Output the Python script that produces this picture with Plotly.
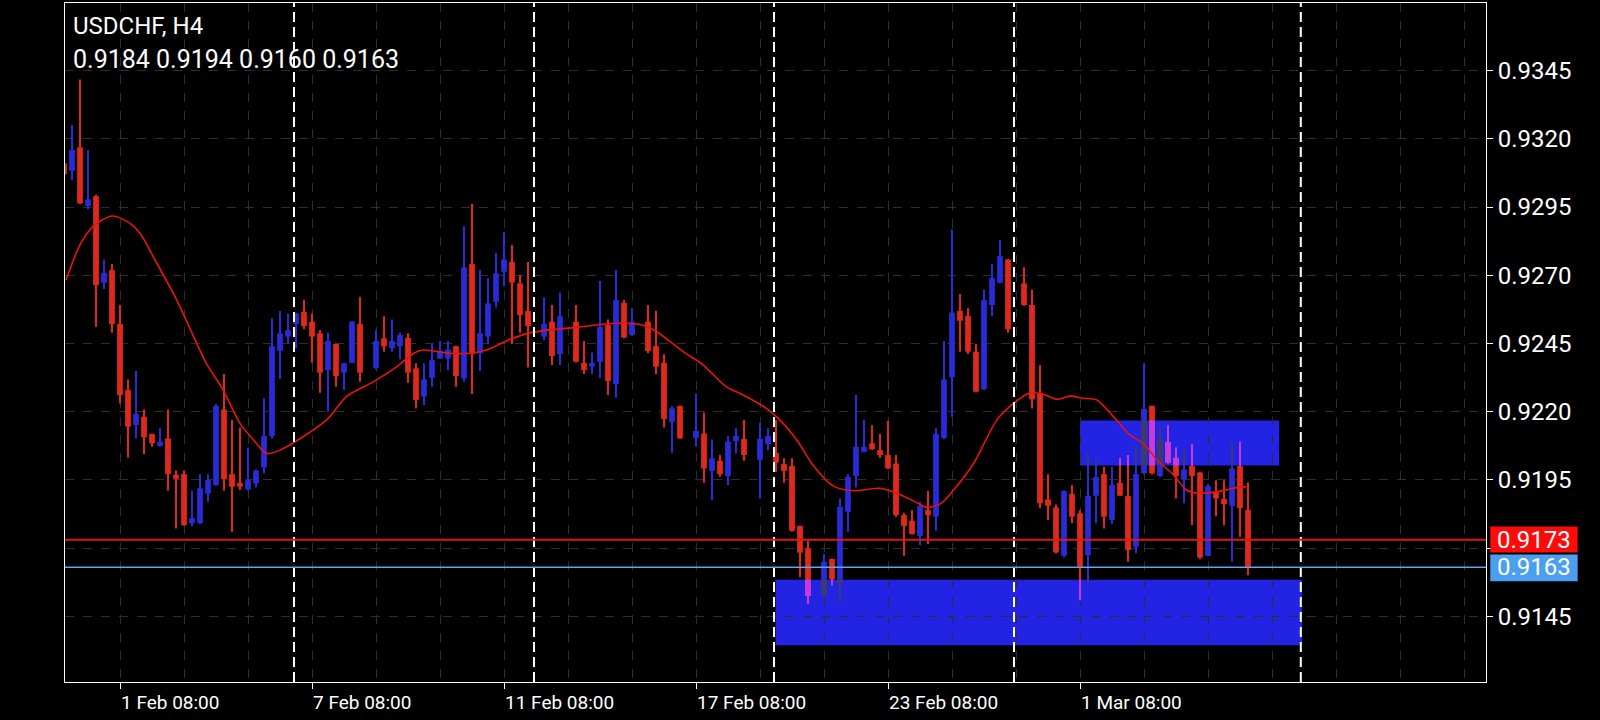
import plotly.graph_objects as go

# ---------------- data ----------------
bar_index = list(range(-1, 148))
opens = [0.9311, 0.93083, 0.93169, 0.92954, 0.92990, 0.92673, 0.92719, 0.92521, 0.92279, 0.92151,
         0.92181, 0.92118, 0.92074, 0.92102, 0.91968, 0.91971, 0.91791, 0.91791, 0.91900, 0.91931,
         0.92208, 0.91971, 0.91939, 0.91915, 0.91937, 0.91996, 0.92111, 0.92423, 0.92475, 0.92521,
         0.92566, 0.92530, 0.92487, 0.92352, 0.92448, 0.92343, 0.92379, 0.92521, None, 0.92361,
         0.92469, 0.92432, 0.92440, 0.92471, 0.92359, 0.92255, 0.92324, 0.92395, 0.92395, 0.92440,
         0.92322, 0.92741, 0.92414, 0.92475, 0.92603, 0.92713, 0.92749, 0.92670, 0.92569, None,
         0.92475, 0.92530, 0.92411, None, 0.92530, 0.92379, 0.92365, 0.92383, 0.92517, 0.92301,
         0.92599, 0.92481, None, 0.92530, 0.92440, 0.92379, 0.92163, 0.92221, None, 0.92104,
         0.92120, 0.91983, 0.92020, 0.91964, 0.92092, 0.92100, None, 0.92023, 0.92081, 0.92049,
         0.92008, 0.92001, 0.91781, 0.91699, None, 0.91528, 0.91660, 0.91572, 0.91833, 0.91964,
         0.92053, 0.92084, 0.92059, 0.92041, 0.92010, 0.91821, 0.91800, 0.91744, 0.91839, 0.91815,
         0.92104, 0.92326, 0.92570, 0.92550, 0.92420, 0.92282, 0.92591, 0.92673, 0.92758, None,
         0.92670, 0.92591, 0.92267, 0.91878, 0.91849, 0.91672, 0.91898, 0.91827, 0.91674, 0.91892,
         0.91971, 0.91803, 0.91939, 0.91891, 0.91705, 0.91974, 0.92221, 0.91964, 0.92089, 0.92031,
         0.91952, 0.92001, 0.91977, 0.91671, 0.91904, 0.91880, 0.91855, 0.92001, 0.9184]
highs = [0.9313, 0.93251, 0.93418, 0.93159, 0.92995, 0.92758, 0.92741, 0.92591, 0.92318, 0.92349,
         0.92208, 0.92120, 0.92139, 0.92208, 0.91984, 0.91984, 0.91910, 0.91971, 0.91971, 0.92228,
         0.92338, 0.92169, 0.92142, 0.92069, 0.91988, 0.92249, 0.92542, 0.92569, 0.92560, 0.92563,
         0.92609, 0.92560, 0.92499, 0.92489, 0.92450, 0.92380, 0.92532, 0.92621, None, 0.92499,
         0.92550, 0.92538, 0.92489, 0.92487, 0.92377, 0.92377, 0.92448, 0.92459, 0.92459, 0.92442,
         0.92880, 0.92961, 0.92719, 0.92689, 0.92782, 0.92859, 0.92811, 0.92701, 0.92749, None,
         0.92619, 0.92591, 0.92637, None, 0.92591, 0.92459, 0.92417, 0.92679, 0.92538, 0.92719,
         0.92609, 0.92579, None, 0.92591, 0.92570, 0.92410, 0.92221, 0.92223, None, 0.92267,
         0.92197, 0.92098, 0.92041, 0.92111, 0.92139, 0.92169, None, 0.92159, 0.92139, 0.92169,
         0.92029, 0.92029, 0.91783, 0.91726, None, 0.91678, 0.91662, 0.91882, 0.91971, 0.92261,
         0.92169, 0.92150, 0.92118, 0.92167, 0.92041, 0.91829, 0.91839, 0.91870, 0.91909, 0.92139,
         0.92459, 0.92868, 0.92631, 0.92579, 0.92448, 0.92648, 0.92741, 0.92829, 0.92760, None,
         0.92729, 0.92648, 0.92371, 0.91971, 0.91860, 0.91912, 0.91931, 0.91839, 0.92041, 0.92020,
         0.91998, 0.91998, 0.92029, 0.92041, 0.92071, 0.92377, 0.92223, 0.92139, 0.92150, 0.92069,
         0.92059, 0.92081, 0.91980, 0.91935, 0.91949, 0.91949, 0.92081, 0.92090, 0.9194]
lows = [0.9306, 0.93049, 0.92960, 0.92942, 0.92511, 0.92650, 0.92489, 0.92230, 0.92032, 0.92102,
        0.92045, 0.92071, 0.92072, 0.91910, 0.91772, 0.91782, 0.91781, 0.91788, 0.91870, 0.91928,
        0.91910, 0.91760, 0.91913, 0.91910, 0.91923, 0.91974, 0.92102, 0.92320, 0.92450, 0.92432,
        0.92502, 0.92379, 0.92269, 0.92200, 0.92291, 0.92279, 0.92377, 0.92310, None, 0.92355,
        0.92420, 0.92420, 0.92392, 0.92306, 0.92212, 0.92224, 0.92291, 0.92393, 0.92352, 0.92291,
        0.92310, 0.92265, 0.92349, 0.92448, 0.92582, 0.92660, 0.92448, 0.92489, 0.92362, None,
        0.92462, 0.92371, 0.92371, None, 0.92380, 0.92338, 0.92338, 0.92322, 0.92261, 0.92251,
        0.92469, 0.92478, None, 0.92414, 0.92338, 0.92142, 0.92049, 0.92100, None, 0.92071,
        0.91939, 0.91876, 0.91961, 0.91931, 0.92047, 0.92020, None, 0.91881, 0.92059, 0.91980,
        0.91939, 0.91760, 0.91593, 0.91495, None, 0.91521, 0.91564, 0.91503, 0.91760, 0.91923,
        0.92050, 0.92059, 0.92031, 0.91989, 0.91815, 0.91672, 0.91750, 0.91711, 0.91715, 0.91763,
        0.92100, 0.92181, 0.92420, 0.92411, 0.92270, 0.92279, 0.92550, 0.92670, 0.92489, None,
        0.92588, 0.92212, 0.91846, 0.91803, 0.91680, 0.91665, 0.91791, 0.91509, 0.91571, 0.91791,
        0.91772, 0.91789, 0.91890, 0.91650, 0.91681, 0.91970, 0.91970, 0.91960, 0.92010, 0.91882,
        0.91864, 0.91784, 0.91660, 0.91670, 0.91817, 0.91784, 0.91650, 0.91741, 0.9160]
closes = [0.9307, 0.93159, 0.92964, 0.92978, 0.92664, 0.92709, 0.92521, 0.92261, 0.92145, 0.92191,
          0.92106, 0.92084, 0.92090, 0.91971, 0.91954, 0.91784, 0.91809, 0.91919, 0.91949, 0.92221,
          0.91952, 0.91925, 0.91925, 0.91949, 0.91984, 0.92111, 0.92440, 0.92487, 0.92499, 0.92560,
          0.92514, 0.92475, 0.92343, 0.92459, 0.92330, 0.92377, 0.92530, 0.92343, None, 0.92459,
          0.92440, 0.92459, 0.92481, 0.92343, 0.92243, 0.92318, 0.92389, 0.92423, 0.92428, 0.92330,
          0.92729, 0.92411, 0.92487, 0.92597, 0.92707, 0.92758, 0.92673, 0.92554, 0.92514, None,
          0.92521, 0.92404, 0.92550, None, 0.92383, 0.92352, 0.92379, 0.92511, 0.92312, 0.92609,
          0.92472, 0.92530, None, 0.92422, 0.92365, 0.92173, 0.92212, 0.92102, None, 0.92129,
          0.91992, 0.92029, 0.91971, 0.92090, 0.92111, 0.92041, None, 0.92100, 0.92111, 0.92013,
          0.91983, 0.91763, 0.91683, 0.91524, None, 0.91650, 0.91585, 0.91851, 0.91961, 0.92071,
          0.92071, 0.92062, 0.92041, 0.91992, 0.91821, 0.91781, 0.91751, 0.91854, 0.91821, 0.92118,
          0.92318, 0.92563, 0.92533, 0.92420, 0.92273, 0.92609, 0.92689, 0.92770, 0.92502, None,
          0.92591, 0.92245, 0.91864, 0.91855, 0.91684, 0.91909, 0.91815, 0.91631, 0.91891, 0.91961,
          0.91815, 0.91931, 0.91892, 0.91693, 0.91971, 0.92210, 0.91974, 0.92101, 0.92013, 0.91964,
          0.91988, 0.91964, 0.91665, 0.91927, 0.91882, 0.91861, 0.91992, 0.91846, 0.9163]

ma_index = [-0.75, 1, 2.6, 5, 7.25, 8.5, 10.6, 13.1, 15.2, 16.8, 18.9, 21, 22.7, 24.3, 26,
            31.8, 34.3, 37.7, 40.6, 42.7, 43.9, 47.25, 49.75, 51.8, 54.75, 57, 59, 63.1, 68.1,
            71.4, 73.1, 76.4, 78.9, 81.8, 83.9, 86.8, 88.5, 90.6, 92.7, 95.2, 97.7, 101, 103.1,
            105.2, 106.8, 108.5, 110.2, 112.7, 115.6, 117.7, 119.75, 121.4, 123.1, 124.75, 126.4,
            128.1, 130.2, 132.25, 133.9, 135.6, 137.7, 139.3, 141, 143.1, 145.2, 146.8]
ma_values = [0.92682, 0.92811, 0.92878, 0.92917, 0.92890, 0.92854, 0.92744, 0.92609, 0.92475,
             0.92377, 0.92279, 0.92157, 0.92096, 0.92047, 0.92059, 0.92169, 0.92255, 0.92310,
             0.92365, 0.92414, 0.92426, 0.92414, 0.92414, 0.92426, 0.92465, 0.92487, 0.92497,
             0.92509, 0.92524, 0.92517, 0.92493, 0.92420, 0.92371, 0.92291, 0.92261, 0.92212,
             0.92169, 0.92096, 0.92001, 0.91927, 0.91910, 0.91919, 0.91901, 0.91873, 0.91850,
             0.91861, 0.91913, 0.92010, 0.92169, 0.92230, 0.92269, 0.92264, 0.92245, 0.92257,
             0.92249, 0.92243, 0.92181, 0.92114, 0.92084, 0.92023, 0.91968, 0.91913, 0.91901,
             0.91906, 0.91919, 0.91925]

tick_index = [6, 30, 54, 78, 102, 126]
tick_labels = ["1 Feb 08:00", "7 Feb 08:00", "11 Feb 08:00", "17 Feb 08:00", "23 Feb 08:00", "1 Mar 08:00"]
price_ticks = [0.9145, 0.9170, 0.9195, 0.9220, 0.9245, 0.9270, 0.9295, 0.9320, 0.9345]
price_tick_text = ["0.9145", "", "0.9195", "0.9220", "0.9245", "0.9270", "0.9295", "0.9320", "0.9345"]

symbol = "USDCHF, H4"
last_ohlc = [0.9184, 0.9194, 0.9160, 0.9163]
level_price = 0.9173
bid_price = 0.9163
week_separators = [27.75, 57.75, 87.75, 117.75, 153.6]
zones = [(87.94, 153.75, 0.91344, 0.91584), (126.0, 150.9, 0.92003, 0.92168)]

# ---------------- style ----------------
BULL = "#2a2ad8"
BEAR = "#e0281c"
ZONE = "#2323e3"
BULL_IN_ZONE = "#3c3c6a"
BEAR_IN_ZONE = "#c43ce0"
MIN_BODY = 0.00004
X_RANGE = [-0.875, 176.75]
Y_RANGE = [0.91209, 0.93698]

bx, bb, bh, bc = [], [], [], []
wx, wb, wh, wc = [], [], [], []
obx, obb, obh, obc = [], [], [], []
owx, owb, owh, owc = [], [], [], []
for i, o, h, l, c in zip(bar_index, opens, highs, lows, closes):
    if o is None:
        continue
    bull = c >= o
    col = BULL if bull else BEAR
    lo, hi = min(o, c), max(o, c)
    if hi - lo < MIN_BODY:
        mid = (hi + lo) / 2
        lo, hi = mid - MIN_BODY / 2, mid + MIN_BODY / 2
    bx.append(i); bb.append(lo); bh.append(hi - lo); bc.append(col)
    wx.append(i); wb.append(l); wh.append(h - l); wc.append(col)
    for zx0, zx1, zy0, zy1 in zones:
        if zx0 <= i <= zx1:
            zcol = BULL_IN_ZONE if bull else BEAR_IN_ZONE
            a, b = max(lo, zy0), min(hi, zy1)
            if b > a:
                obx.append(i); obb.append(a); obh.append(b - a); obc.append(zcol)
            a, b = max(l, zy0), min(h, zy1)
            if b > a:
                owx.append(i); owb.append(a); owh.append(b - a); owc.append(zcol)

fig = go.Figure()
fig.add_trace(go.Bar(x=wx, y=wh, base=wb, width=0.24, marker=dict(color=wc, line=dict(width=0)),
                     hoverinfo="skip", showlegend=False))
fig.add_trace(go.Bar(x=bx, y=bh, base=bb, width=0.72, marker=dict(color=bc, line=dict(width=0)),
                     hoverinfo="skip", showlegend=False))
fig.add_trace(go.Bar(x=owx, y=owh, base=owb, width=0.24, marker=dict(color=owc, line=dict(width=0)),
                     hoverinfo="skip", showlegend=False))
fig.add_trace(go.Bar(x=obx, y=obh, base=obb, width=0.72, marker=dict(color=obc, line=dict(width=0)),
                     hoverinfo="skip", showlegend=False))
fig.add_trace(go.Scatter(x=ma_index, y=ma_values, mode="lines",
                         line=dict(color="#e8140f", width=1.6, shape="spline", smoothing=0.8),
                         hoverinfo="skip", showlegend=False))

shapes = []
for zx0, zx1, zy0, zy1 in zones:
    shapes.append(dict(type="rect", xref="x", yref="y", x0=zx0, x1=zx1, y0=zy0, y1=zy1,
                       fillcolor=ZONE, line=dict(width=0), layer="below"))
for s in week_separators:
    shapes.append(dict(type="line", xref="x", yref="paper", x0=s, x1=s, y0=0, y1=1,
                       line=dict(color="white", width=2, dash="10px,5px"), layer="above"))
shapes.append(dict(type="line", xref="paper", yref="y", x0=0, x1=1, y0=level_price, y1=level_price,
                   line=dict(color="#d81a14", width=2), layer="above"))
shapes.append(dict(type="line", xref="paper", yref="y", x0=0, x1=1, y0=bid_price, y1=bid_price,
                   line=dict(color="#5aa8f0", width=1.5), layer="above"))
# price tags on the right axis
shapes.append(dict(type="rect", xref="paper", yref="y", x0=1.003, x1=1.0645,
                   y0=level_price - 0.00046, y1=level_price + 0.00049,
                   fillcolor="#ff0a0a", line=dict(width=0), layer="above"))
shapes.append(dict(type="rect", xref="paper", yref="y", x0=1.003, x1=1.0645,
                   y0=bid_price - 0.00052, y1=bid_price + 0.00046,
                   fillcolor="#4b9ff0", line=dict(width=0), layer="above"))

annotations = [
    dict(xref="paper", yref="paper", x=0.004, y=0.9655, xanchor="left", yanchor="middle",
         text=symbol, showarrow=False, font=dict(family="Roboto", size=24, color="white")),
    dict(xref="paper", yref="paper", x=0.004, y=0.9165, xanchor="left", yanchor="middle",
         text=" ".join(f"{v:.4f}" for v in last_ohlc), showarrow=False,
         font=dict(family="Roboto", size=25, color="white")),
    dict(xref="paper", yref="y", x=1.034, y=level_price, xanchor="center", yanchor="middle",
         text=f"{level_price:.4f}", showarrow=False,
         font=dict(family="Roboto", size=24, color="white")),
    dict(xref="paper", yref="y", x=1.034, y=bid_price, xanchor="center", yanchor="middle",
         text=f"{bid_price:.4f}", showarrow=False,
         font=dict(family="Roboto", size=24, color="white")),
]

GRID = "#2e2e2e"
fig.update_layout(
    width=1600, height=720,
    margin=dict(l=65, r=114, t=3, b=38),
    paper_bgcolor="black", plot_bgcolor="black",
    barmode="overlay",
    shapes=shapes, annotations=annotations,
    xaxis=dict(range=X_RANGE, tickvals=tick_index, ticktext=tick_labels,
               ticks="outside", ticklen=6, tickcolor="white", tickwidth=1,
               ticklabelposition="outside right", ticklabelstandoff=3,
               tickfont=dict(family="Roboto", size=19, color="white"),
               showgrid=True, gridcolor=GRID, griddash="dash", gridwidth=1,
               minor=dict(tick0=6, dtick=8, showgrid=True, gridcolor=GRID, griddash="dash", ticks=""),
               showline=True, linecolor="white", linewidth=1, mirror=True, zeroline=False,
               fixedrange=True),
    yaxis=dict(range=Y_RANGE, side="right", tickvals=price_ticks, ticktext=price_tick_text,
               ticks="outside", ticklen=6, tickcolor="white",
               tickfont=dict(family="Roboto", size=24, color="white"),
               showgrid=True, gridcolor=GRID, griddash="dash", gridwidth=1,
               showline=True, linecolor="white", linewidth=1, mirror=True, zeroline=False,
               fixedrange=True),
)

fig.write_html("out.html", config={"displayModeBar": False},
               post_script="document.body.style.margin='0';document.body.style.background='black';")
